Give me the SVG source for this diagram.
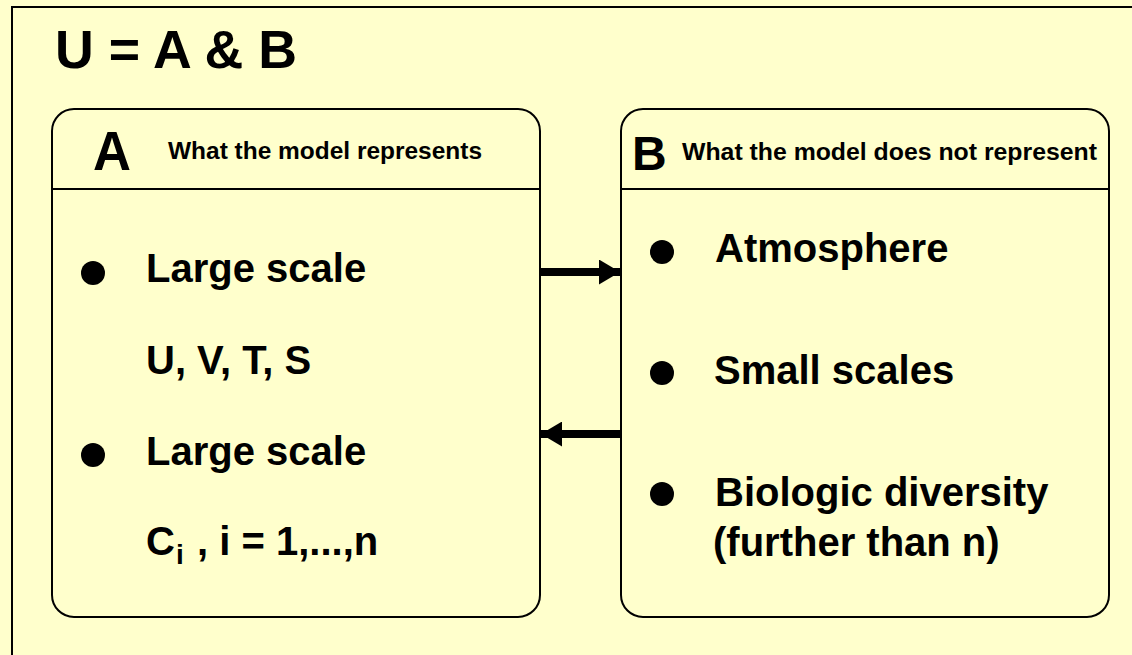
<svg xmlns="http://www.w3.org/2000/svg" width="1132" height="655" viewBox="0 0 1132 655">
  <style>
    .t { font-family: "Liberation Sans", Arial, Helvetica, sans-serif; font-weight: bold; fill: #000; }
    .box { fill: #FFFFCC; stroke: #000; stroke-width: 2; }
    .div { stroke: #000; stroke-width: 2; }
    .bul { fill: #000; }
    .body { font-size: 40px; }
    .hdr { font-size: 23px; }
    .conn { stroke: #000; stroke-width: 8; fill: none; }
  </style>
  <defs>
    <marker id="ah" viewBox="0 0 21 25" refX="21" refY="12.5" markerWidth="21" markerHeight="25" markerUnits="userSpaceOnUse" orient="auto">
      <path d="M0,0 L21,12.5 L0,25 Z" fill="#000"/>
    </marker>
  </defs>
  <rect x="0" y="0" width="1132" height="655" fill="#FFFFCC"/>
  <rect x="12" y="7" width="1200" height="700" fill="#FFFFCC" stroke="#000" stroke-width="2"/>
  <text id="title" class="t" x="55" y="68" font-size="54" textLength="242" lengthAdjust="spacingAndGlyphs">U = A &amp; B</text>

  <g id="nodeA">
    <rect class="box" x="52" y="109" width="488" height="508" rx="22" ry="22"/>
    <line class="div" x1="52" y1="189" x2="540" y2="189"/>
    <text class="t" x="93" y="170" font-size="56" textLength="38" lengthAdjust="spacingAndGlyphs">A</text>
    <text class="t hdr" x="168" y="159" textLength="314" lengthAdjust="spacingAndGlyphs">What the model represents</text>
    <circle class="bul" cx="93" cy="273" r="12"/>
    <text class="t body" x="146" y="282">Large scale</text>
    <text class="t body" x="146" y="374">U, V, T, S</text>
    <circle class="bul" cx="93" cy="455" r="12"/>
    <text class="t body" x="146" y="465">Large scale</text>
    <text class="t body" x="146" y="555">C</text>
    <text class="t" x="176" y="564" font-size="28">i</text>
    <text class="t body" x="197" y="555">, i = 1,...,n</text>
  </g>

  <g id="nodeB">
    <rect class="box" x="621" y="109" width="488" height="508" rx="22" ry="22"/>
    <line class="div" x1="621" y1="189" x2="1109" y2="189"/>
    <text class="t" x="632" y="170" font-size="48">B</text>
    <text class="t hdr" x="682" y="160" textLength="415" lengthAdjust="spacingAndGlyphs">What the model does not represent</text>
    <circle class="bul" cx="662" cy="252" r="12"/>
    <text class="t body" x="715" y="262">Atmosphere</text>
    <circle class="bul" cx="662" cy="373" r="12"/>
    <text class="t body" x="714" y="384">Small scales</text>
    <circle class="bul" cx="662" cy="494" r="12"/>
    <text class="t body" x="715" y="506">Biologic diversity</text>
    <text class="t body" x="713" y="556">(further than n)</text>
  </g>

  <g id="connectors">
    <line class="conn" x1="540" y1="272" x2="620" y2="272" marker-end="url(#ah)"/>
    <line class="conn" x1="620" y1="434" x2="541" y2="434" marker-end="url(#ah)"/>
  </g>
</svg>
